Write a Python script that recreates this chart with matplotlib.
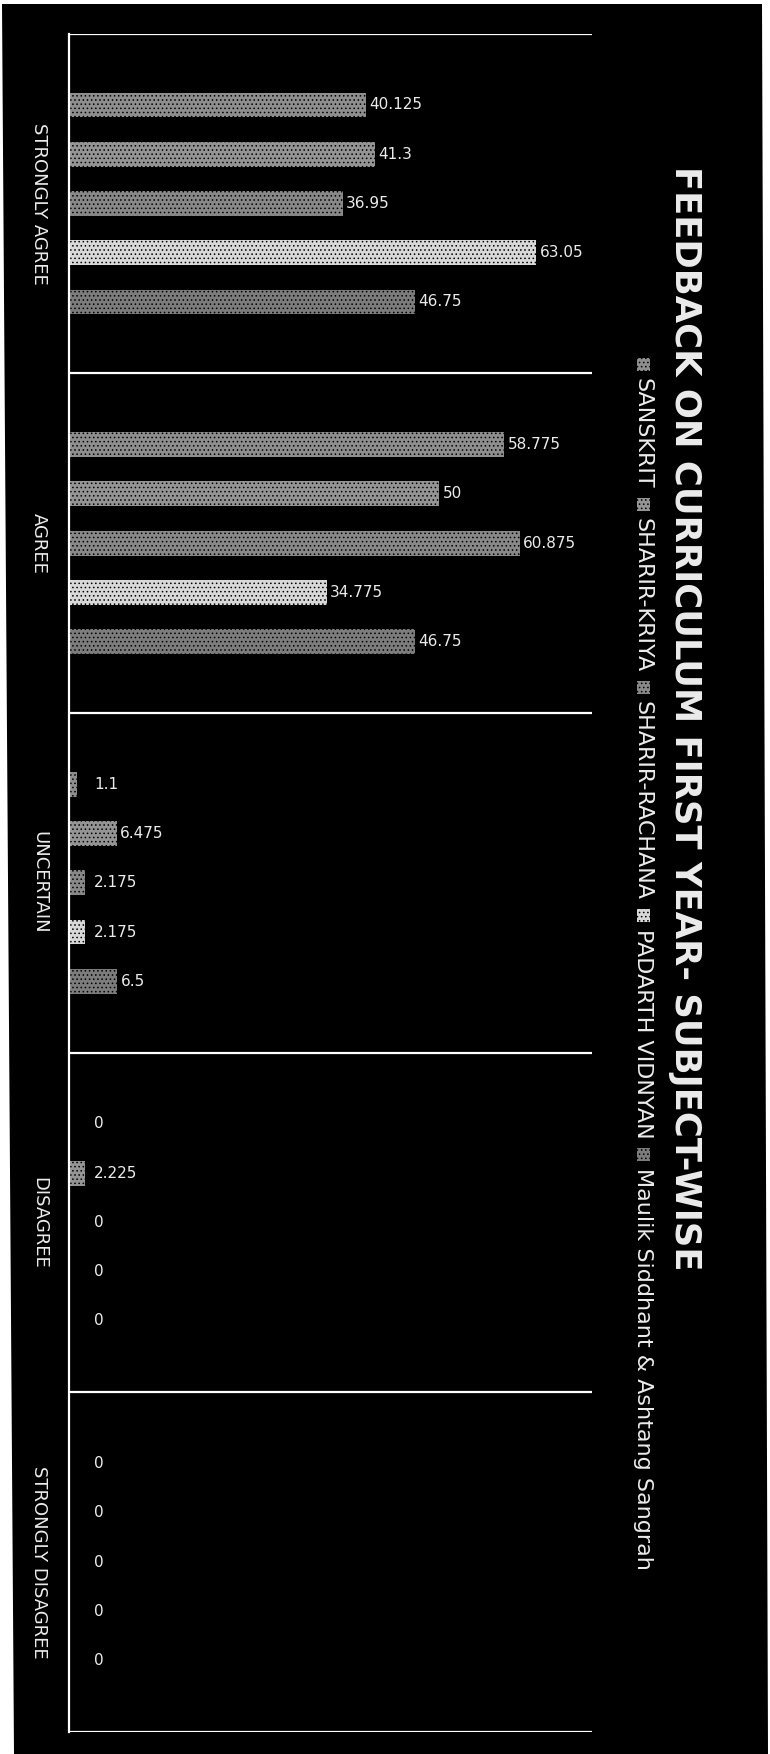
import matplotlib
matplotlib.use('Agg')
import matplotlib.pyplot as plt
from matplotlib.patches import Rectangle, Polygon
import numpy as np

categories = ['STRONGLY AGREE', 'AGREE', 'UNCERTAIN', 'DISAGREE', 'STRONGLY DISAGREE']
subjects = ['SANSKRIT', 'SHARIR-KRIYA', 'SHARIR-RACHANA', 'PADARTH VIDNYAN',
            'Maulik Siddhant & Ashtang Sangrah']
sanskrit = [40.125, 58.775, 1.1, 0, 0]
sharir_kriya = [41.3, 50, 6.475, 2.225, 0]
sharir_rachana = [36.95, 60.875, 2.175, 0, 0]
padarth_vidnyan = [63.05, 34.775, 2.175, 0, 0]
maulik_siddhant = [46.75, 46.75, 6.5, 0, 0]
series = [sanskrit, sharir_kriya, sharir_rachana, padarth_vidnyan, maulik_siddhant]
title = 'FEEDBACK ON CURRICULUM FIRST YEAR- SUBJECT-WISE'

# greys of the scanned (dithered) bars
colors = ['#8e8e8e', '#949494', '#888888', '#d8d8d8', '#7c7c7c']
txt_color = '#ececec'

plt.rcParams['hatch.linewidth'] = 0.6

W, H = 770, 1754
fig = plt.figure(figsize=(W / 100, H / 100), dpi=100, facecolor='white')

# black scanned page, a bit skewed
page = Polygon([[2 / W, 1 - 4 / H], [762 / W, 1 - 4 / H], [768 / W, 0], [14 / W, 0]],
               closed=True, transform=fig.transFigure, facecolor='black',
               edgecolor='none', zorder=-10)
fig.patches.append(page)

ax = fig.add_axes([69 / W, 22 / H, 523 / W, 1698.4 / H])
ax.set_facecolor('none')
ax.set_zorder(2)

n = len(categories)
step = 0.145
bar_h = 0.073
base = np.arange(n)
for j, vals in enumerate(series):
    y = base + (j - 2) * step
    ax.barh(y, vals, height=bar_h, color=colors[j], edgecolor='black',
            linewidth=0, hatch='....', zorder=2)
    for yy, v in zip(y, vals):
        ax.text(max(v, 2.9) + 0.45, yy, '{:g}'.format(v), va='center', ha='left',
                fontsize=11, color=txt_color)

for b in np.arange(-0.5, n, 1.0):
    ax.axhline(b, color='white', lw=1.6, zorder=3)

ax.set_xlim(0, 70.6)
ax.set_ylim(n - 0.5, -0.5)
ax.set_xticks([])
ax.set_yticks(base)
ax.set_yticklabels(categories, rotation=-90, va='center', fontsize=13, color=txt_color)
ax.tick_params(axis='y', length=0, pad=15)
for s in ['top', 'right', 'bottom']:
    ax.spines[s].set_visible(False)
ax.spines['left'].set_color('white')
ax.spines['left'].set_linewidth(1.6)

fig.text(685 / W, 1 - 718 / H, title, rotation=-90, ha='center', va='center',
         fontsize=25.5, fontweight='bold', color=txt_color, zorder=3)

# legend, laid out downwards like the rotated original
fig.canvas.draw()
renderer = fig.canvas.get_renderer()
lx = 643
ly = H - 358
sq = 13
for j, name in enumerate(subjects):
    fig.patches.append(Rectangle(((lx - sq / 2) / W, (ly - sq) / H), sq / W, sq / H,
                                 transform=fig.transFigure, facecolor=colors[j],
                                 edgecolor='black', linewidth=0, hatch='....', zorder=3))
    ly -= sq + 7
    t = fig.text(lx / W, ly / H, name, rotation=-90, ha='center', va='top',
                 fontsize=16, color=txt_color, zorder=3)
    bb = t.get_window_extent(renderer)
    ly = bb.y0 - 9

fig.savefig('out.png', dpi=100, facecolor=fig.get_facecolor())
